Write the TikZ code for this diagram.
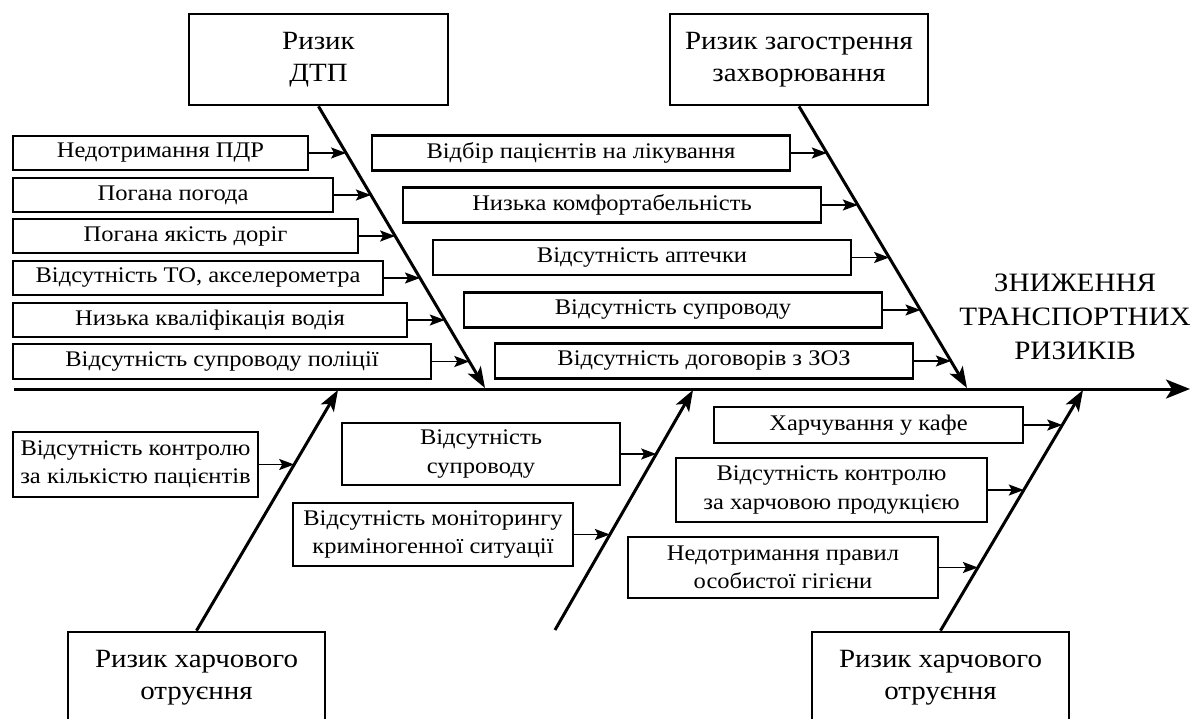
\documentclass[tikz,border=0pt]{standalone}
\usepackage{fontspec}
\setmainfont[FakeStretch=1.1]{Liberation Serif}
\usetikzlibrary{arrows.meta,intersections}

\tikzset{
  cause/.style={draw, line width=2.7pt, inner sep=0pt, align=center,
                font=\fontsize{22.3}{28.5}\selectfont},
  risk/.style={cause, font=\fontsize{26.3}{32.5}\selectfont},
  bone/.style={line width=3pt, -{Stealth[length=21pt,width=15pt,inset=5pt]}},
  feed/.style={line width=1.8pt, -{Stealth[length=15pt,width=11pt,inset=3pt]}},
  spine/.style={line width=3pt, -{Stealth[length=24pt,width=19pt,inset=6pt]}},
  effect/.style={align=center, inner sep=0pt, font=\fontsize{26.5}{34}\selectfont},
}

% short arrow from a cause box to the bone it feeds
\newcommand{\feedinto}[2]{%
  \path[name path=feedline] (#1.east) -- ++(200,0);
  \draw[feed, name intersections={of=feedline and #2}] (#1.east) -- (intersection-1);
}

\begin{document}
\begin{tikzpicture}[x=1pt, y=-1pt]
\clip (0,0) rectangle (1200,718);

% main spine and effect
\coordinate (tail) at (14,389);
\coordinate (head) at (1190,389);
\draw[spine] (tail) -- (head);
\node[effect] (effect) at (1075,317) {ЗНИЖЕННЯ\\ТРАНСПОРТНИХ\\РИЗИКІВ};

% risk categories
\node[risk, minimum width=259, minimum height=91] (dtp) at (318.5,59.5) {Ризик\\ДТП};
\node[risk, minimum width=258, minimum height=91] (ill) at (799,59.5) {Ризик загострення\\захворювання};
\node[risk, minimum width=257, minimum height=91] (foodL) at (196.5,677.5) {Ризик харчового\\отруєння};
\node[risk, minimum width=257, minimum height=91] (foodR) at (940.5,677.5) {Ризик харчового\\отруєння};

% bone end points on the spine
\coordinate (tDtp) at (485,388);
\coordinate (tIll) at (967,388);
\coordinate (tFoodL) at (338,390);
\coordinate (tMid) at (693,390);
\coordinate (tFoodR) at (1083,390);
\coordinate (sMid) at (555,630);

\draw[bone, name path=bDtp] (dtp.south) -- (tDtp);
\draw[bone, name path=bIll] (ill.south) -- (tIll);
\draw[bone, name path=bFoodL] (foodL.north) -- (tFoodL);
\draw[bone, name path=bMid] (sMid) -- (tMid);
\draw[bone, name path=bFoodR] (foodR.north) -- (tFoodR);

% causes of road accidents
\node[cause, minimum width=295, minimum height=34] (c1) at (160.5,153) {Недотримання ПДР};
\node[cause, minimum width=320, minimum height=34] (c2) at (173,195) {Погана погода};
\node[cause, minimum width=345, minimum height=34] (c3) at (185.5,236) {Погана якість доріг};
\node[cause, minimum width=370, minimum height=34] (c4) at (198,278) {Відсутність ТО, акселерометра};
\node[cause, minimum width=394, minimum height=34] (c5) at (210,320) {Низька кваліфікація водія};
\node[cause, minimum width=418, minimum height=35] (c6) at (222,361.5) {Відсутність супроводу поліції};
\foreach \n in {c1,c2,c3,c4,c5,c6} {\feedinto{\n}{bDtp}}

% causes of disease aggravation
\node[cause, minimum width=418, minimum height=35] (m1) at (581,153) {Відбір пацієнтів на лікування};
\node[cause, minimum width=418, minimum height=35] (m2) at (612,205) {Низька комфортабельність};
\node[cause, minimum width=418, minimum height=35] (m3) at (642,257.5) {Відсутність аптечки};
\node[cause, minimum width=418, minimum height=35] (m4) at (673,310) {Відсутність супроводу};
\node[cause, minimum width=418, minimum height=35] (m5) at (704,361) {Відсутність договорів з ЗОЗ};
\foreach \n in {m1,m2,m3,m4,m5} {\feedinto{\n}{bIll}}

% lower left
\node[cause, minimum width=245, minimum height=65] (l1) at (135.5,464.5) {Відсутність контролю\\за кількістю пацієнтів};
\feedinto{l1}{bFoodL}

% lower middle
\node[cause, minimum width=278, minimum height=62] (k1) at (481,454) {Відсутність\\супроводу};
\node[cause, minimum width=280, minimum height=63] (k2) at (433,534.5) {Відсутність моніторингу\\криміногенної ситуації};
\feedinto{k1}{bMid}
\feedinto{k2}{bMid}

% lower right
\node[cause, minimum width=309, minimum height=36] (r1) at (868.5,425) {Харчування у кафе};
\node[cause, minimum width=311, minimum height=64] (r2) at (831.5,490) {Відсутність контролю\\за харчовою продукцією};
\node[cause, minimum width=310, minimum height=61] (r3) at (783,567.5) {Недотримання правил\\особистої гігієни};
\foreach \n in {r1,r2,r3} {\feedinto{\n}{bFoodR}}
\end{tikzpicture}
\end{document}
